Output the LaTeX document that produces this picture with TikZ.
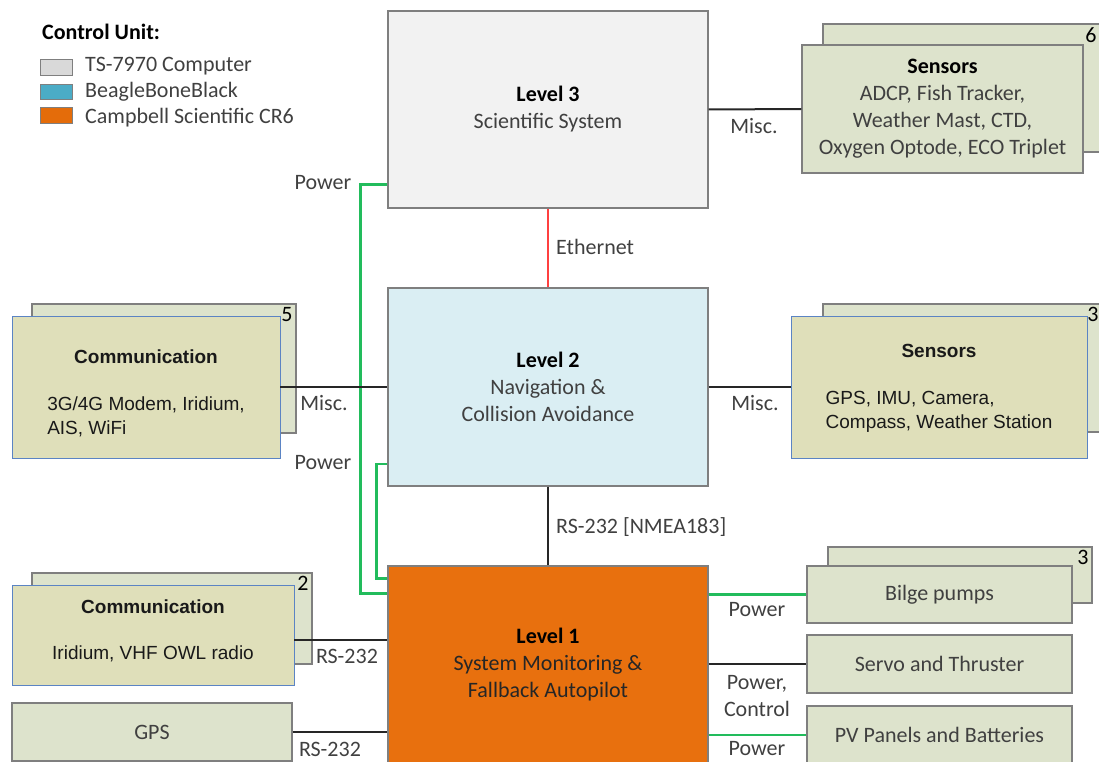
\documentclass[tikz,border=0pt]{standalone}
\usepackage{fontspec}
\setmainfont{Carlito}
\newfontfamily\arialfont{Liberation Sans}
\usepackage{xcolor}
\usepackage{tikz}
\usetikzlibrary{calc}
\definecolor{boxline}{HTML}{7F7F7F}
\definecolor{l3fill}{HTML}{F2F2F2}
\definecolor{l2fill}{HTML}{DAEEF3}
\definecolor{l1fill}{HTML}{E8700E}
\definecolor{devfill}{HTML}{DDE3CC}
\definecolor{commfill}{HTML}{DFDFBA}
\definecolor{commline}{HTML}{5B84C4}
\definecolor{textgray}{HTML}{404040}
\definecolor{wireblack}{HTML}{262626}
\definecolor{powergreen}{HTML}{22BC5C}
\definecolor{ethred}{HTML}{FF4040}
\definecolor{tsgray}{HTML}{D9D9D9}
\definecolor{bbblue}{HTML}{4BACC6}
\definecolor{crorange}{HTML}{E46C0A}
\newcommand{\calfont}{\fontsize{22}{27}\selectfont}
\newcommand{\arifont}{\arialfont\fontsize{19}{24}\selectfont}
\tikzstyle{level} = [draw=boxline, line width=1.2pt, inner sep=0pt, minimum width=320pt, align=center, font=\calfont, text=textgray]
\tikzstyle{devbox} = [draw=boxline, fill=devfill, line width=1.2pt, inner sep=0pt, align=center, font=\calfont, text=textgray]
\tikzstyle{commbox} = [draw=commline, fill=commfill, line width=0.9pt, inner sep=0pt]
\tikzstyle{commtext} = [inner sep=0pt, align=center, font=\arifont, text=black!90]
\tikzstyle{num} = [anchor=north east, inner sep=4pt, font=\calfont, text=black]
\tikzstyle{lbl} = [inner sep=0pt, font=\calfont, text=textgray, align=center]
\tikzstyle{wire} = [line width=2pt, draw=wireblack]
\tikzstyle{power} = [line width=2.6pt, draw=powergreen]
\tikzstyle{swatch} = [draw=boxline, line width=1pt, minimum width=32pt, inner sep=0pt]

\begin{document}
\begin{tikzpicture}
    [x=1pt,y=-1pt]
      \useasboundingbox (0,0) rectangle (1099,762);
      \clip (0,0) rectangle (1099,762);

      % legend
      \node [lbl, anchor=west, text=black](cu) at (42,32) {\textbf{Control Unit:}};
      \node [swatch, fill=tsgray, minimum height=16pt](k1) at (56,68) {};
      \node [swatch, fill=bbblue, minimum height=15pt](k2) at (56,92.5) {};
      \node [swatch, fill=crorange, minimum height=16pt](k3) at (56,116) {};
      \node [lbl, anchor=west](k1t) at (85,66) {TS-7970 Computer};
      \node [lbl, anchor=west](k2t) at (85,92) {BeagleBoneBlack};
      \node [lbl, anchor=west](k3t) at (85,118) {Campbell Scientific CR6};

      % levels
      \node [level, fill=l3fill, minimum height=197pt](L3) at (548,109.5)
        {{\color{black}\textbf{Level 3}}\\Scientific System};
      \node [level, fill=l2fill, minimum height=198pt](L2) at (548,387)
        {{\color{black}\textbf{Level 2}}\\Navigation \&\\Collision Avoidance};
      \node [level, fill=l1fill, minimum height=198pt, text=black!85](L1) at (548,665)
        {{\color{black}\textbf{Level 1}}\\System Monitoring \&\\Fallback Autopilot};

      % stacked boxes
      \node [devbox, minimum width=281pt, minimum height=128pt](S3b) at (963.5,88) {};
      \node [num](S3n) at ([xshift=-4pt]S3b.north east) {6};
      \node [devbox, minimum width=281pt, minimum height=128pt](S3) at (942.5,109)
        {{\color{black}\textbf{Sensors}}\\ADCP, Fish Tracker,\\Weather Mast, CTD,\\Oxygen Optode, ECO Triplet};

      \node [devbox, minimum width=281pt, minimum height=128pt](S2b) at (963.5,368) {};
      \node [num](S2n) at ([xshift=-2pt]S2b.north east) {3};
      \node [commbox, minimum width=296pt, minimum height=142pt](S2) at (939,387) {};
      \node [commtext](S2t) at ([yshift=-3pt]S2.center)
        {\textbf{Sensors}\\[29pt]\begin{tabular}{@{}l@{}}GPS, IMU, Camera,\\Compass, Weather Station\end{tabular}};

      \node [devbox, minimum width=264pt, minimum height=129pt](C2b) at (164,368.5) {};
      \node [num](C2n) at (C2b.north east) {5};
      \node [commbox, minimum width=268pt, minimum height=142pt](C2) at (146,387) {};
      \node [commtext](C2t) at ([yshift=-9pt]C2.center)
        {\textbf{Communication}\\[29pt]\begin{tabular}{@{}l@{}}3G/4G Modem, Iridium,\\AIS, WiFi\end{tabular}};

      \node [devbox, minimum width=280pt, minimum height=91pt](C1b) at (172,618.5) {};
      \node [num](C1n) at (C1b.north east) {2};
      \node [commbox, minimum width=282pt, minimum height=100pt](C1) at (153,635) {};
      \node [commtext](C1t) at ([yshift=4pt]C1.center)
        {\textbf{Communication}\\[22pt]Iridium, VHF OWL radio};

      \node [devbox, minimum width=280pt, minimum height=58pt](GPS) at (152,732) {GPS};

      \node [devbox, minimum width=264pt, minimum height=56pt](Bb) at (960,575) {};
      \node [num](Bn) at (Bb.north east) {3};
      \node [devbox, minimum width=265pt, minimum height=57pt](Bilge) at (939.5,594.5) {Bilge pumps};
      \node [devbox, minimum width=265pt, minimum height=58pt](Servo) at (939.5,664) {Servo and Thruster};
      \node [devbox, minimum width=265pt, minimum height=58pt](PV) at (939.5,735) {PV Panels and Batteries};

      % connectors
      \draw [power] ([yshift=-75pt]L3.west) -- ++(-27,0) |- ([yshift=-28pt]L1.north west);
      \draw [power] ([yshift=-77pt]L2.west) -- ++(-11,0) |- ([yshift=-13pt]L1.north west);
      \foreach \from/\to in {L3/S3,L2/S2,C2/L2}
        \draw [wire] (\from.east) -- (\to.west);
      \draw [wire, draw=ethred] (L3.south) -- (L2.north);
      \draw [wire] (L2.south) -- (L1.north);
      \draw [wire] ([yshift=-5pt]C1.east) -- ([yshift=-5pt]C1.east -| L1.west);
      \draw [wire] (GPS.east) -- (GPS.east -| L1.west);
      \foreach \dev in {Bilge,PV}
        \draw [power] (\dev.west -| L1.east) -- (\dev.west);
      \draw [wire] (Servo.west -| L1.east) -- (Servo.west);

      % connector labels
      \node [lbl](e1) at (754,126) {Misc.};
      \node [lbl, anchor=west](e2) at (556,247) {Ethernet};
      \node [lbl, anchor=west](e3) at (556,527) {RS-232 [NMEA183]};
      \node [lbl](e4) at (755,403) {Misc.};
      \node [lbl](e5) at (324,403) {Misc.};
      \node [lbl](e6) at (323,183) {Power};
      \node [lbl](e7) at (323,463) {Power};
      \node [lbl](e8) at (347,656) {RS-232};
      \node [lbl](e9) at (330,749) {RS-232};
      \node [lbl](e10) at (757,610) {Power};
      \node [lbl](e11) at (757,696) {Power,\\Control};
      \node [lbl](e12) at (757,749) {Power};

    \end{tikzpicture}
\end{document}
